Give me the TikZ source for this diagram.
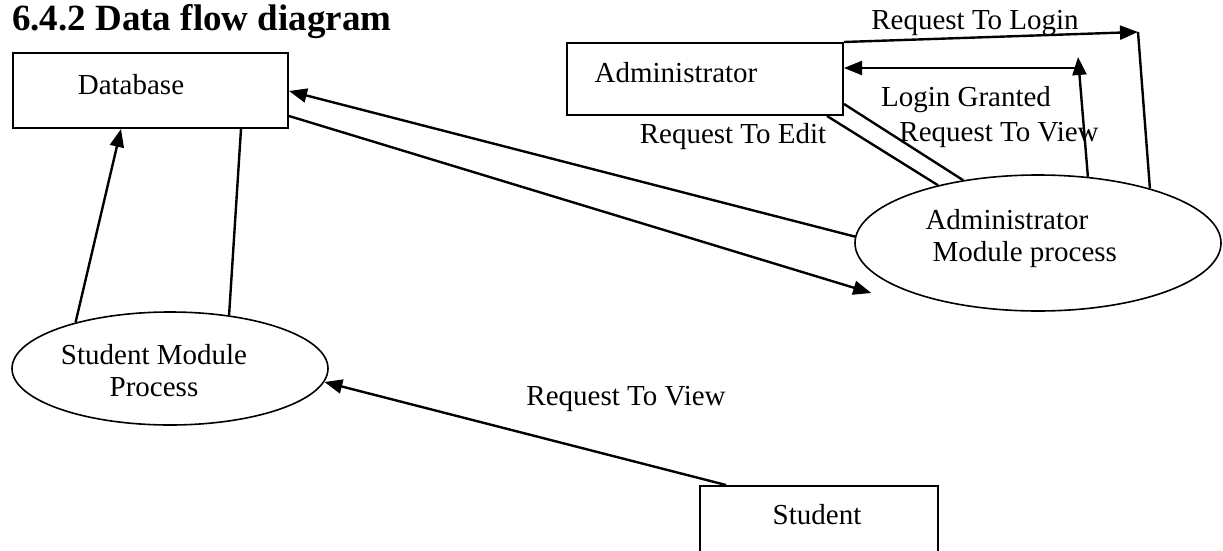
\documentclass[tikz,border=0pt]{standalone}
\usepackage{fontspec}
\setmainfont{Liberation Serif}
\usetikzlibrary{arrows.meta,calc,shapes.geometric}

\tikzset{
  every entity/.style={draw, line width=2pt, rectangle, inner sep=0pt},
  every process/.style={draw, line width=1.6pt, ellipse, inner sep=0pt},
  every flow/.style={line width=2.4pt},
}

\begin{document}
\begin{tikzpicture}[x=1pt, y=-1pt, >={Triangle[length=18pt,width=14pt]}, font=\fontsize{29}{32}\selectfont]

\useasboundingbox (0,0) rectangle (1223,551);

\node [anchor=west, inner sep=0pt, font=\fontsize{37}{44}\selectfont\bfseries] (title) at (12,22) {6.4.2 Data flow diagram};

% data store and external entities
\node [every entity/.try, minimum width=275pt, minimum height=75pt] (db) at (150.5,90.5) {};
\node [every entity/.try, minimum width=276pt, minimum height=72pt] (adm) at (705,79) {};
\node [every entity/.try, minimum width=238pt, minimum height=100pt] (stu) at (819,536) {};

\foreach \t/\x/\y [count=\i] in {Database/131/85, Administrator/676/73, Student/817/515}
  \node (name-\i) at (\x,\y) {\t};

% processes
\node [every process/.try, minimum width=316pt, minimum height=113pt] (sme) at (170,368.5) {};
\node [every process/.try, minimum width=366pt, minimum height=136pt] (amp) at (1038,243) {};

\node [align=center] (sme-text) at (154,371) {Student Module\\Process};
\node [align=left, anchor=west] (amp-text) at (922,239) {Administrator\\\hspace*{7pt}Module process};

\foreach \t/\x/\y [count=\i] in {Request To Login/975/23, Login Granted/966/100, Request To View/999/135, Request To Edit/733/137, Request To View/626/399}
  \node (flow-\i) at (\x,\y) {\t};

\coordinate (login-turn) at (1138,32);
\coordinate (grant-turn) at (1078,57);

\draw [every flow/.try, ->] (sme.154) -- ($(db.south west)+(109,0)$);
\draw [every flow/.try] ($(db.south west)+(229,0)$) -- (sme.42);
\draw [every flow/.try, ->] (amp.178) -- ($(db.north east)+(0,39)$);
\draw [every flow/.try, ->] ($(db.north east)+(0,64)$) -- ($(amp.west)+(17,50)$);

\draw [every flow/.try, ->] (adm.north east) -- (login-turn);
\draw [every flow/.try] (login-turn) -- (amp.26);
\draw [every flow/.try, ->] (amp.53) -- (grant-turn);
\draw [every flow/.try, ->] ($(grant-turn)+(0,11)$) -- ($(adm.east)+(0,-11)$);
\draw [every flow/.try] ($(adm.north east)+(0,62)$) -- (amp.140);
\draw [every flow/.try] ($(adm.south east)+(-17,0)$) -- (amp.150);

\draw [every flow/.try, ->] ($(stu.north west)+(27,0)$) -- (sme.-5);

\end{tikzpicture}
\end{document}
